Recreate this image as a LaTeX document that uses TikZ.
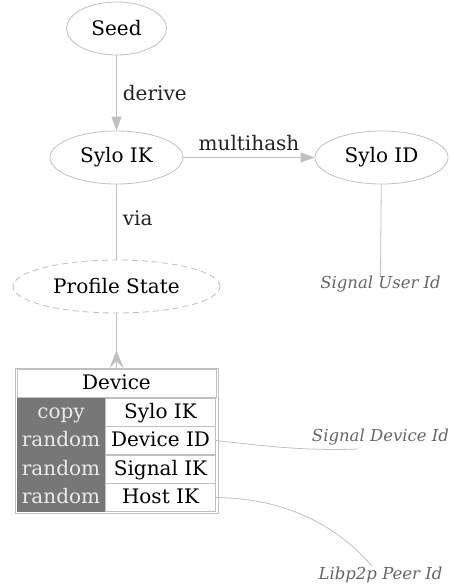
\documentclass[tikz,border=0pt]{standalone}
\usepackage{fontspec}
\setmainfont{DejaVu Serif}
\usetikzlibrary{shapes.geometric,arrows.meta}
\definecolor{edgegray}{HTML}{C0C0C0}
\definecolor{cellgray}{HTML}{777777}
\definecolor{labgray}{HTML}{666666}
\definecolor{txt}{HTML}{222222}
\begin{document}
\begin{tikzpicture}[x=1pt,y=-1pt,
  ell/.style={ellipse,draw=edgegray,line width=0.8pt,inner sep=0pt,font=\fontsize{20}{22}\selectfont},
  conn/.style={draw=edgegray,line width=0.8pt},
  arr/.style={conn,-{Triangle[length=14pt,width=10pt]},edgegray},
  elab/.style={font=\fontsize{20}{22}\selectfont,text=txt,inner sep=0pt},
  ilab/.style={font=\fontsize{16.5}{18}\selectfont\itshape,text=labgray,inner sep=0pt},
  cell/.style={draw=edgegray,line width=0.6pt,inner sep=0pt,minimum height=28pt,text height=15.5pt,text depth=3.5pt,font=\fontsize{20}{22}\selectfont},
  dcell/.style={cell,fill=cellgray,draw=cellgray,text=white!92!black,minimum width=87pt},
  wcell/.style={cell,minimum width=110pt}]
\useasboundingbox (0,0) rectangle (453,586);
\node[ell,minimum width=100pt,minimum height=53pt] (seed) at (116.5,28.5) {Seed};
\node[ell,minimum width=133pt,minimum height=53pt] (ik) at (116.5,157.5) {Sylo IK};
\node[ell,minimum width=133pt,minimum height=53pt] (id) at (381.5,157.5) {Sylo ID};
\node[ell,dashed,dash pattern=on 6pt off 4pt,minimum width=207pt,minimum height=53pt] (ps) at (116.5,286.5) {Profile State};
\draw[arr] (seed) -- (ik) node[elab,midway,right=6pt] {derive};
\draw[arr] (ik) -- (id) node[elab,midway,above=6pt] {multihash};
\draw[conn] (ik) -- (ps) node[elab,pos=0.45,right=6pt] {via};
% device table
\node[draw=edgegray,line width=0.8pt,minimum width=203pt,minimum height=145pt,inner sep=0pt] (dev) at (116.5,440.5) {};
\node[cell,minimum width=199pt,minimum height=28pt] (devh) at (116.5,383.5) {Device};
\node[dcell] (c1) at (61,412) {copy};
\node[wcell] (v1) at (160.5,412) {Sylo IK};
\node[dcell] (c2) at (61,440.5) {random};
\node[wcell] (v2) at (160.5,440.5) {Device ID};
\node[dcell] (c3) at (61,469) {random};
\node[wcell] (v3) at (160.5,469) {Signal IK};
\node[dcell] (c4) at (61,497.5) {random};
\node[wcell] (v4) at (160.5,497.5) {Host IK};
\draw[conn] (ps) -- (dev.north);
\fill[edgegray] (116.5,350) -- (109.5,368) -- (116.5,361) -- (123.5,368) -- cycle;
% labels
\node[ilab] (sui) at (380.5,284) {Signal User Id};
\node[ilab] (sdi) at (380.5,437) {Signal Device Id};
\node[ilab] (lpi) at (380.5,575) {Libp2p Peer Id};
\coordinate (sdiend) at (358,449);
\coordinate (lpiend) at (372,566);
\draw[conn] (id) -- (sui.north);
\draw[conn] (v2.east) .. controls (265,446) and (305,451) .. (sdiend);
\draw[conn] (v4.east) .. controls (275,498) and (330,518) .. (lpiend);
\end{tikzpicture}
\end{document}
